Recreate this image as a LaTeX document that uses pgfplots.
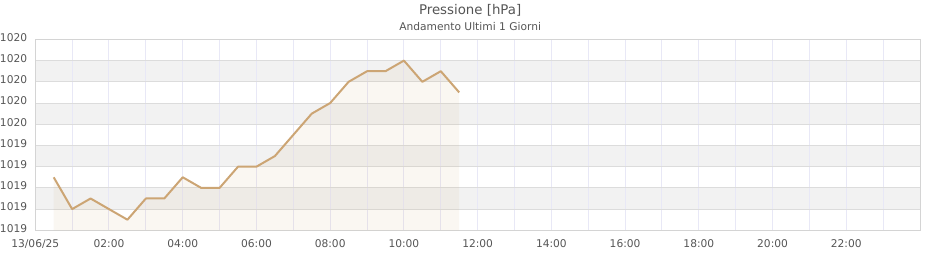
\documentclass[border=0pt]{standalone}
\usepackage{pgfplots}
\pgfplotsset{compat=1.18}
\usepackage{fontspec}
\setmainfont{DejaVu Sans}
\definecolor{linec}{HTML}{CCA574}
\definecolor{txt}{HTML}{555555}
\definecolor{band}{HTML}{F2F2F2}
\definecolor{hgrid}{HTML}{DCDCDC}
\definecolor{vgrid}{HTML}{E8E8F6}
\definecolor{frame}{HTML}{D4D4D4}
\begin{document}
\begin{tikzpicture}
\begin{axis}[
  set layers,
  at={(26.25pt,22.5pt)}, anchor=south west,
  scale only axis, width=663.75pt, height=143.25pt,
  xmin=0, xmax=24, ymin=1019.0, ymax=1019.9,
  xtick={0,2,4,6,8,10,12,14,16,18,20,22},
  minor xtick={1,3,5,7,9,11,13,15,17,19,21,23},
  xticklabels={13/06/25,02:00,04:00,06:00,08:00,10:00,12:00,14:00,16:00,18:00,20:00,22:00},
  ytick={1019.0,1019.1,1019.2,1019.3,1019.4,1019.5,1019.6,1019.7,1019.8,1019.9},
  yticklabels={1019,1019,1019,1019,1019,1020,1020,1020,1020,1020},
  xmajorgrids, xminorgrids, ymajorgrids,
  major x grid style={draw=vgrid, line width=0.75pt},
  minor x grid style={draw=vgrid, line width=0.75pt},
  major y grid style={draw=hgrid, line width=0.75pt},
  major tick length=0pt, minor tick length=0pt,
  axis line style={draw=frame, line width=0.75pt},
  tick label style={text=txt, font=\fontsize{8pt}{9.6pt}\selectfont},
  yticklabel style={inner xsep=0pt, xshift=-5.9pt, yshift=1.5pt},
  xticklabel style={yshift=-3.2pt},
  /pgf/number format/assume math mode=true,
]
\addplot[on layer=axis background, draw=none, fill=band] coordinates {(0,1019.1) (24,1019.1) (24,1019.2) (0,1019.2)} -- cycle;
\addplot[on layer=axis background, draw=none, fill=band] coordinates {(0,1019.3) (24,1019.3) (24,1019.4) (0,1019.4)} -- cycle;
\addplot[on layer=axis background, draw=none, fill=band] coordinates {(0,1019.5) (24,1019.5) (24,1019.6) (0,1019.6)} -- cycle;
\addplot[on layer=axis background, draw=none, fill=band] coordinates {(0,1019.7) (24,1019.7) (24,1019.8) (0,1019.8)} -- cycle;
\addplot[draw=none, fill=linec, fill opacity=0.09] coordinates {
(0.5,1019.0)
(0.5,1019.25) (1.0,1019.10) (1.5,1019.15) (2.0,1019.10) (2.5,1019.05)
(3.0,1019.15) (3.5,1019.15) (4.0,1019.25) (4.5,1019.20) (5.0,1019.20)
(5.5,1019.30) (6.0,1019.30) (6.5,1019.35) (7.0,1019.45) (7.5,1019.55)
(8.0,1019.60) (8.5,1019.70) (9.0,1019.75) (9.5,1019.75) (10.0,1019.80)
(10.5,1019.70) (11.0,1019.75) (11.5,1019.65)
(11.5,1019.0)
} -- cycle;
\addplot[draw=linec, line width=1.5pt, line join=round] coordinates {
(0.5,1019.25) (1.0,1019.10) (1.5,1019.15) (2.0,1019.10) (2.5,1019.05)
(3.0,1019.15) (3.5,1019.15) (4.0,1019.25) (4.5,1019.20) (5.0,1019.20)
(5.5,1019.30) (6.0,1019.30) (6.5,1019.35) (7.0,1019.45) (7.5,1019.55)
(8.0,1019.60) (8.5,1019.70) (9.0,1019.75) (9.5,1019.75) (10.0,1019.80)
(10.5,1019.70) (11.0,1019.75) (11.5,1019.65)
};
\end{axis}
\node[text=txt,font=\fontsize{10pt}{12pt}\selectfont] at (352.5pt,187.5pt) {Pressione [hPa]};
\node[text=txt,font=\fontsize{8pt}{9.6pt}\selectfont] at (352.5pt,175.5pt) {Andamento Ultimi 1 Giorni};
\path (0,0) rectangle (705pt,195pt);
\end{tikzpicture}
\end{document}
